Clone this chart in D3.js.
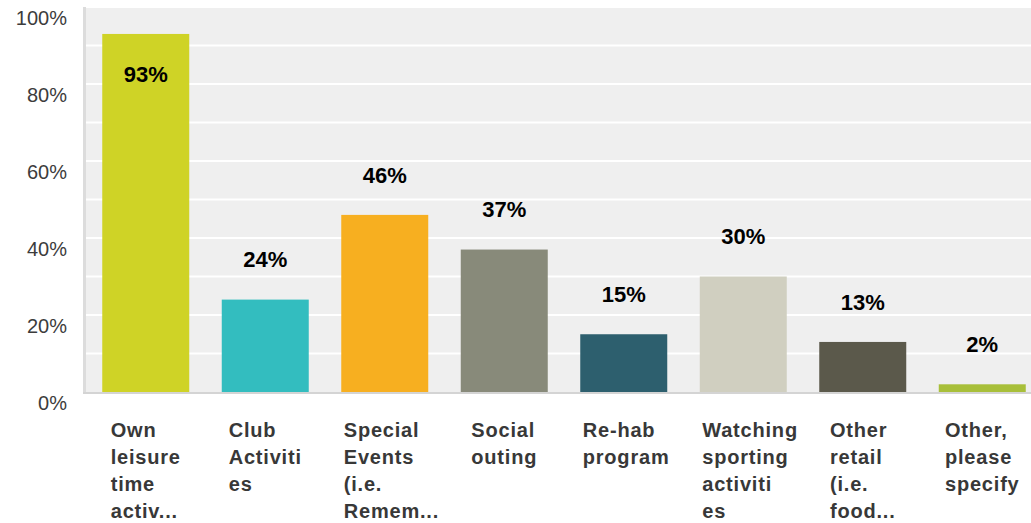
<!DOCTYPE html>
<html>
<head>
<meta charset="utf-8">
<script src="https://cdn.jsdelivr.net/npm/d3@7"></script>
<style>
  html, body { margin: 0; padding: 0; background: #fff; }
  svg { display: block; }
</style>
</head>
<body>
<div id="chart"></div>
<script>
const categories = [
  ['Own', 'leisure', 'time', 'activ...'],
  ['Club', 'Activiti', 'es'],
  ['Special', 'Events', '(i.e.', 'Remem...'],
  ['Social', 'outing'],
  ['Re-hab', 'program'],
  ['Watching', 'sporting', 'activiti', 'es'],
  ['Other', 'retail', '(i.e.', 'food...'],
  ['Other,', 'please', 'specify']
];
const values = [93, 24, 46, 37, 15, 30, 13, 2];
const barColors = ['#cfd326', '#33bdbf', '#f7af20', '#888a7a', '#2d5f6e', '#d0cfc0', '#5b594b', '#a8bf3a'];
const yTicks = [0, 20, 40, 60, 80, 100];
const gridTicks = [10, 20, 30, 40, 50, 60, 70, 80, 90, 100];

const W = 1031, H = 523;
const margin = { left: 86, top: 7, bottom: 392 };
const labelBox = 82; // width of the category label box under each bar

const svg = d3.select('#chart').append('svg')
  .attr('width', W)
  .attr('height', H);

const x = d3.scaleBand()
  .domain(d3.range(values.length))
  .range([margin.left, 1042])
  .paddingInner(0.272)
  .paddingOuter(0.136);

const y = d3.scaleLinear()
  .domain([0, 100])
  .range([margin.bottom, margin.top]);

// plot background
svg.append('rect')
  .attr('x', margin.left)
  .attr('y', y(100))
  .attr('width', W - margin.left)
  .attr('height', y(0) - y(100))
  .attr('fill', '#efefef');

// gridlines
svg.append('g').selectAll('line')
  .data(gridTicks)
  .enter()
  .append('line')
  .attr('x1', margin.left)
  .attr('x2', W)
  .attr('y1', d => y(d))
  .attr('y2', d => y(d))
  .attr('stroke', '#ffffff')
  .attr('stroke-width', 2);

// left axis bar
svg.append('rect')
  .attr('x', 83)
  .attr('y', y(100))
  .attr('width', 3)
  .attr('height', y(0) - y(100) + 2)
  .attr('fill', '#dcdcdc');

// bars
svg.append('g').selectAll('rect')
  .data(values)
  .enter()
  .append('rect')
  .attr('x', (d, i) => x(i))
  .attr('y', d => y(d))
  .attr('width', x.bandwidth())
  .attr('height', d => y(0) - y(d))
  .attr('fill', (d, i) => barColors[i]);

// bottom axis line
svg.append('line')
  .attr('x1', 83)
  .attr('x2', W)
  .attr('y1', y(0) + 1)
  .attr('y2', y(0) + 1)
  .attr('stroke', '#d4d4d4')
  .attr('stroke-width', 2);

// y tick labels (sit a bit below their gridline)
svg.append('g').selectAll('text')
  .data(yTicks)
  .enter()
  .append('text')
  .attr('x', 67)
  .attr('y', d => y(d) + 11)
  .attr('dy', '0.35em')
  .attr('text-anchor', 'end')
  .attr('font-family', 'Arial, "Liberation Sans", sans-serif')
  .attr('font-size', '20px')
  .attr('fill', '#3c3c3c')
  .text(d => d + '%');

// value labels
svg.append('g').selectAll('text')
  .data(values)
  .enter()
  .append('text')
  .attr('x', (d, i) => x(i) + x.bandwidth() / 2)
  .attr('y', d => {
    const top = y(d);
    return top - 40 < 20 ? top + 40 : top - 40;
  })
  .attr('dy', '0.35em')
  .attr('text-anchor', 'middle')
  .attr('font-family', 'Arial, "Liberation Sans", sans-serif')
  .attr('font-weight', 'bold')
  .attr('font-size', '22px')
  .attr('fill', '#000')
  .text(d => d + '%');

// category labels: left aligned block, centred under bar, box capped at labelBox
const catG = svg.append('g').selectAll('text')
  .data(categories)
  .enter()
  .append('text')
  .attr('y', 437)
  .attr('font-family', 'Arial, "Liberation Sans", sans-serif')
  .attr('font-weight', 'bold')
  .attr('font-size', '20px')
  .attr('letter-spacing', '0.8px')
  .attr('fill', '#383838');

catG.each(function (lines, i) {
  const t = d3.select(this);
  const spans = t.selectAll('tspan')
    .data(lines)
    .enter()
    .append('tspan')
    .attr('y', (l, j) => 437 + j * 27)
    .text(l => l);
  let maxW = 0;
  spans.each(function () { maxW = Math.max(maxW, this.getComputedTextLength()); });
  const left = x(i) + x.bandwidth() / 2 - Math.min(maxW, labelBox) / 2;
  spans.attr('x', left);
});
</script>
</body>
</html>
